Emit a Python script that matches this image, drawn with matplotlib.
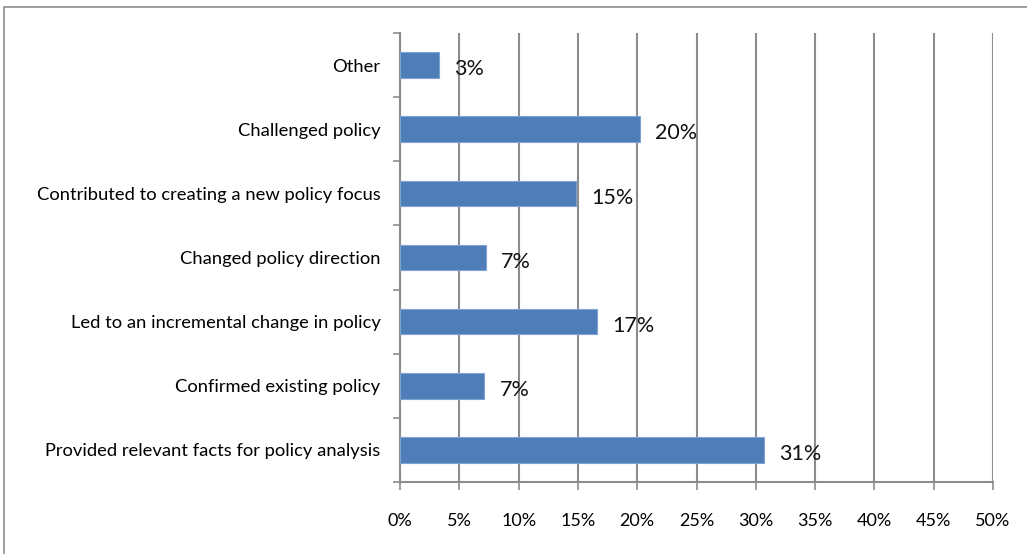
import matplotlib.pyplot as plt
from matplotlib.patches import Rectangle

categories = ["Provided relevant facts for policy analysis",
              "Confirmed existing policy",
              "Led to an incremental change in policy",
              "Changed policy direction",
              "Contributed to creating a new policy focus",
              "Challenged policy",
              "Other"]
values = [30.7, 7.1, 16.6, 7.25, 14.8, 20.2, 3.3]
labels = ["31%", "7%", "17%", "7%", "15%", "20%", "3%"]
xticks = [0, 5, 10, 15, 20, 25, 30, 35, 40, 45, 50]

plt.rcParams['font.family'] = ['Lato', 'DejaVu Sans']

fig = plt.figure(figsize=(10.27, 5.54), dpi=100)
ax = fig.add_axes([400 / 1027, 1 - 482 / 554, 593 / 1027, 449 / 554])

# outer chart frame
fig.patches.append(Rectangle((4 / 1027, -0.05), 1.1, 1 - 7 / 554 + 0.05,
                             transform=fig.transFigure, fill=False,
                             edgecolor='#8c8c8c', linewidth=1.2))

ypos = list(range(len(categories)))
ax.barh(ypos, values, height=0.4, color='#4f7db8', edgecolor='#7fa3d1', linewidth=0.8, zorder=3)

for y, v, lab in zip(ypos, values, labels):
    ax.annotate(lab, (v, y), xytext=(11, -3), textcoords='offset points',
                ha='left', va='center', fontsize=15.5, color='#111111', zorder=4)

ax.set_xlim(0, 50)
ax.set_ylim(-0.5, len(categories) - 0.5)
ax.set_xticks(xticks)
ax.set_xticklabels([str(t) + "%" for t in xticks], fontsize=13)
ax.set_yticks(ypos)
ax.set_yticklabels(categories, fontsize=13.2)
ax.set_yticks([y - 0.5 for y in ypos] + [len(categories) - 0.5], minor=True)

ax.grid(True, axis='x', color='#8c8c8c', linewidth=1.5, zorder=0)
ax.tick_params(axis='y', which='major', length=0, pad=14)
ax.tick_params(axis='y', which='minor', length=5, width=1.2, color='#8c8c8c', direction='out')
ax.tick_params(axis='x', length=6, width=1.2, color='#8c8c8c', direction='out', pad=16)

for s in ['top', 'right']:
    ax.spines[s].set_visible(False)
for s in ['left', 'bottom']:
    ax.spines[s].set_color('#8c8c8c')
    ax.spines[s].set_linewidth(1.5)

fig.savefig("out.png", dpi=100)
